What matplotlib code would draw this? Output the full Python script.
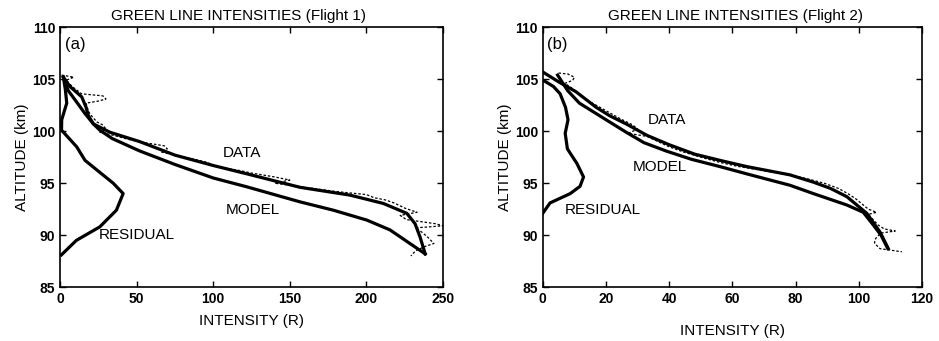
import matplotlib.pyplot as plt

plt.rcParams['font.family'] = ['Liberation Sans', 'DejaVu Sans']

# Flight 1 (a)
f1_data_alt = [105.2, 104.3, 103.3, 102.3, 101.5, 100.7, 99.9, 99.0, 97.7, 96.7, 95.9, 94.6, 93.85, 93.05, 92.1, 91.1, 89.8, 88.2]
f1_data_int = [2.2, 6.5, 14.2, 17, 18.5, 21.8, 32.6, 52, 75, 100, 121.9, 156.7, 189.3, 211, 226.3, 231.7, 235, 238.3]
f1_model_alt = [105.2, 103.9, 102.8, 101.7, 100.7, 100.1, 99.3, 98.1, 96.8, 95.5, 94.65, 93.2, 92.4, 91.45, 90.5, 89.4, 88.2]
f1_model_int = [2.2, 5.4, 10.9, 16.3, 21.8, 26, 34, 52, 75, 100, 121.9, 156.7, 178.4, 200.2, 215.4, 226.3, 238.3]
f1_resid_alt = [88.1, 89.5, 90.8, 92.4, 94.0, 95.0, 96.3, 97.2, 98.5, 99.6, 100.1, 101.1, 102.7, 104.0, 105.2]
f1_resid_int = [0.9, 10.7, 26, 36.8, 41.2, 34.7, 23.8, 16.3, 10.9, 4.1, 1.0, 1.1, 4.4, 3.5, 2.2]
f1_raw_alt = [105.4, 105.2, 104.9, 104.3, 103.6, 103.4, 103.1, 102.9, 102.7, 102.2, 101.8, 101.4, 100.9, 100.6, 100.2,
              99.9, 99.6, 99.2, 98.9, 98.6, 98.3, 98.0, 97.8, 97.4, 97.0, 96.6, 96.2, 96.0, 95.6, 95.3, 95.0, 94.8,
              94.5, 94.2, 93.9, 93.6, 93.4, 93.1, 92.6, 92.2, 91.9, 91.5, 91.1, 90.9, 90.7, 90.3, 89.8, 89.2, 88.9,
              88.5, 88.0]
f1_raw_int = [1, 9, 4, 8, 14, 28, 30, 25, 17, 18, 19, 21, 24, 28, 30,
              26, 35, 45, 55, 68, 70, 66, 72, 85, 96, 102, 118, 124, 140, 150, 140, 150,
              165, 180, 200, 205, 212, 218, 225, 233, 222, 226, 245, 250, 232, 236, 240, 244, 238,
              232, 229]

# Flight 2 (b)
f2_data_alt = [105.7, 104.7, 103.8, 102.3, 101.5, 100.7, 99.6, 98.7, 97.8, 97.2, 96.6, 95.8, 95.1, 94.5, 93.7, 92.1, 90.3, 88.7]
f2_data_int = [0, 5.3, 10.5, 16.9, 21.1, 26.4, 33, 40, 48, 56, 64.5, 78.2, 85.6, 91, 96.2, 102.5, 106.7, 109.3]
f2_model_alt = [105.4, 103.9, 102.7, 100.9, 99.9, 98.9, 98.1, 97.3, 96.6, 95.9, 94.8, 94.0, 92.9, 92.2, 91.0, 90.0, 88.8]
f2_model_int = [4.7, 7.9, 11.6, 21.1, 26.4, 32, 39, 47, 56, 64.5, 78.2, 85.6, 96.2, 101.4, 104.5, 107, 109]
f2_resid_alt = [92.1, 93.1, 94.0, 94.7, 95.6, 96.9, 98.3, 99.8, 101.1, 102.3, 103.6, 104.3, 104.8, 104.9]
f2_resid_int = [0, 2.3, 8.7, 11.8, 12.9, 10.8, 7.8, 7.1, 8.0, 7.2, 5.5, 3.4, 0.7, 0]
f2_raw_alt = [105.6, 105.5, 105.2, 104.9, 104.6, 104.2, 103.6, 103.0, 102.4, 101.8, 101.2, 100.6, 100.2, 99.8,
              99.5, 99.0, 98.5, 98.0, 97.5, 97.0, 96.6, 96.2, 95.8, 95.4, 95.0, 94.5, 94.0, 93.5, 93.0, 92.5,
              92.2, 92.0, 91.5, 91.0, 90.6, 90.4, 90.2, 89.8, 89.5, 89.2, 88.7, 88.6, 88.4]
f2_raw_int = [5, 8, 10, 9.5, 7, 9, 11.5, 14, 17.5, 21, 24.5, 28.5, 30, 27,
              33, 36.5, 40, 44.5, 50, 56, 62, 70, 78, 84, 89, 93.5, 96.5, 99, 101, 103,
              105.6, 103, 104.5, 106, 108, 111.5, 107, 105.6, 105, 105, 106.7, 109, 113.6]

fig = plt.figure(figsize=(9.39, 3.41), dpi=100)
ax1 = fig.add_axes([0.0639, 0.158, 0.408, 0.762])
ax2 = fig.add_axes([0.578, 0.158, 0.404, 0.762])

panels = [
    (ax1, f1_data_int, f1_data_alt, f1_model_int, f1_model_alt, f1_resid_int, f1_resid_alt, f1_raw_int, f1_raw_alt,
     "GREEN LINE INTENSITIES (Flight 1)", 0.465, (0, 250), range(0, 251, 50), "(a)", 3,
     [("DATA", 118.8, 97.9), ("MODEL", 126, 92.4), ("RESIDUAL", 50.2, 90.0)], 6),
    (ax2, f2_data_int, f2_data_alt, f2_model_int, f2_model_alt, f2_resid_int, f2_resid_alt, f2_raw_int, f2_raw_alt,
     "GREEN LINE INTENSITIES (Flight 2)", 0.507, (0, 120), range(0, 121, 20), "(b)", 1.3,
     [("DATA", 39.2, 101.1), ("MODEL", 37, 96.6), ("RESIDUAL", 19.1, 92.4)], 13),
]

for (ax, dx, dy, mx, my, rx, ry, wx, wy, title, tx, xlim, xticks, tag, tagx, labels, xlpad) in panels:
    ax.plot(wx, wy, color='black', lw=0.9, linestyle=(0, (2, 1.5)))
    ax.plot(dx, dy, color='black', lw=2.3, solid_joinstyle='round')
    ax.plot(mx, my, color='black', lw=2.3, solid_joinstyle='round')
    ax.plot(rx, ry, color='black', lw=2.3, solid_joinstyle='round')
    ax.set_xlim(*xlim)
    ax.set_ylim(85, 110)
    ax.set_xticks(list(xticks))
    ax.set_yticks(range(85, 111, 5))
    ax.tick_params(direction='in', top=True, right=True, labelsize=10, length=4, width=1)
    for lbl in ax.get_xticklabels() + ax.get_yticklabels():
        lbl.set_fontweight('bold')
    for s in ax.spines.values():
        s.set_linewidth(1.2)
    ax.set_title(title, fontsize=11, pad=5, x=tx)
    ax.set_xlabel("INTENSITY (R)", fontsize=11, labelpad=xlpad)
    ax.set_ylabel("ALTITUDE (km)", fontsize=11, labelpad=2)
    ax.text(tagx, 108.3, tag, fontsize=12, ha='left', va='center')
    for t, x, y in labels:
        ax.text(x, y, t, fontsize=11, ha='center', va='center')

plt.savefig("out.png", dpi=100)
